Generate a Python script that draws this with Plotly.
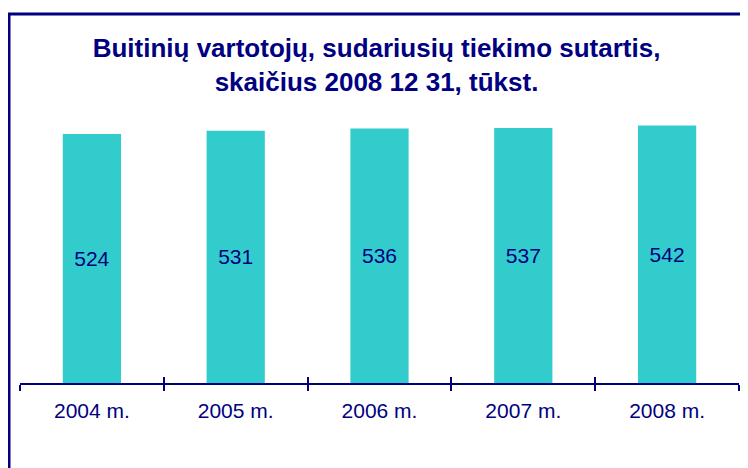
import plotly.graph_objects as go

NAVY = '#000080'
TEAL = '#33CCCC'
FONT = 'Arial, Liberation Sans, sans-serif'

years = ['2004 m.', '2005 m.', '2006 m.', '2007 m.', '2008 m.']
consumers = [524, 531, 536, 537, 542]  # tūkst.

fig = go.Figure()
fig.add_trace(go.Bar(
    x=years, y=consumers,
    marker=dict(color=TEAL, line=dict(width=0)),
    text=[str(v) for v in consumers],
    textposition='inside', insidetextanchor='middle', textangle=0,
    textfont=dict(family=FONT, size=21, color=NAVY),
    hoverinfo='x+y',
))
# invisible copy on a second axis only to get ticks on the inner side too
fig.add_trace(go.Scatter(x=years, y=consumers, mode='none', xaxis='x2',
                         hoverinfo='skip', showlegend=False))

fig.update_layout(
    width=748, height=468,
    paper_bgcolor='white', plot_bgcolor='white',
    margin=dict(l=12, r=17, t=90, b=93),
    bargap=0.595,
    showlegend=False,
    font=dict(family=FONT, size=21, color=NAVY),
    title=dict(
        text='<b>Buitinių vartotojų, sudariusių tiekimo sutartis,<br>skaičius 2008 12 31, tūkst.</b>',
        x=0.4927, xanchor='center', y=0.895, yanchor='middle',
        font=dict(family=FONT, size=26, color=NAVY)),
    xaxis=dict(
        type='category', categoryarray=years,
        showline=True, linecolor=NAVY, linewidth=1.5,
        ticks='outside', tickson='boundaries', ticklen=6, tickwidth=1.5, tickcolor=NAVY,
        tickfont=dict(family=FONT, size=21, color=NAVY), ticklabelstandoff=8,
        showgrid=False, zeroline=False),
    xaxis2=dict(
        type='category', categoryarray=years, overlaying='x', matches='x',
        showline=False, ticks='inside', tickson='boundaries', ticklen=6,
        tickwidth=1.5, tickcolor=NAVY, showticklabels=False, showgrid=False),
    yaxis=dict(range=[0, 600], visible=False, showgrid=False, zeroline=False),
    shapes=[dict(type='rect', xref='paper', yref='paper',
                 x0=-0.0153, x1=1.2, y0=-0.6, y1=1.2947,
                 line=dict(color=NAVY, width=3), fillcolor='rgba(0,0,0,0)')],
)

fig.write_html('out.html')
